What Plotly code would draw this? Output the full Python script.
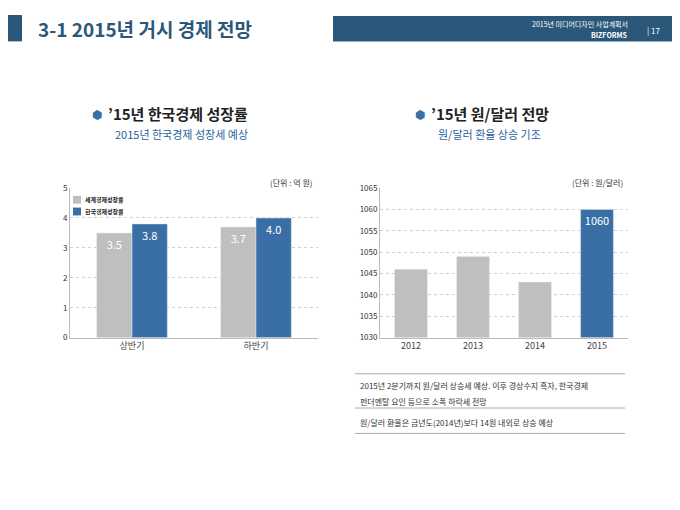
import plotly.graph_objects as go

periods = ["상반기", "하반기"]
world_growth = [3.5, 3.7]
korea_growth = [3.8, 4.0]
series_names = ["세계경제성장률", "한국경제성장률"]
years = ["2012", "2013", "2014", "2015"]
exchange = [1046, 1049, 1043, 1060]
ex_labels = ["", "", "", "1060"]

NAVY = "#2b587a"
GREY = "#bfbfbf"
BLUE = "#3a6fa5"
F = "Noto Sans CJK KR"
W, H, OFF = 664, 494, 8

def px(x):
    return (x - OFF) / W

def py(y):
    return 1 - (y - OFF) / H

fig = go.Figure()
fig.add_bar(x=periods, y=world_growth, name=series_names[0], marker_color=GREY,
            text=[f"{v:.1f}" for v in world_growth], textposition="inside",
            insidetextanchor="end", textfont=dict(color="white", size=11, family=F),
            xaxis="x", yaxis="y")
fig.add_bar(x=periods, y=korea_growth, name=series_names[1], marker_color=BLUE,
            text=[f"{v:.1f}" for v in korea_growth], textposition="inside",
            insidetextanchor="end", textfont=dict(color="white", size=11, family=F),
            xaxis="x", yaxis="y")
fig.add_bar(x=years, y=[e - 1030 for e in exchange], base=1030, showlegend=False,
            marker_color=[GREY, GREY, GREY, BLUE], text=ex_labels, textposition="inside",
            insidetextanchor="end", textfont=dict(color="white", size=11, family=F),
            xaxis="x2", yaxis="y2", width=0.53)

ax = dict(showline=True, linecolor="#bbbbbb", ticks="", tickfont=dict(size=9, family=F, color="#444"))
ay = dict(showgrid=True, gridcolor="#d0d0d0", griddash="dot", zeroline=False, showline=True,
          linecolor="#bbbbbb", tickfont=dict(size=8, family=F, color="#333"))
fig.update_layout(
    width=W, height=H, margin=dict(l=0, r=0, t=0, b=0),
    paper_bgcolor="white", plot_bgcolor="white", barmode="group", bargap=0.43, bargroupgap=0,
    font=dict(family=F), showlegend=False,
    xaxis=dict(domain=[px(70), px(318)], anchor="y", **ax),
    yaxis=dict(domain=[py(339), py(186)], range=[0, 5], dtick=1, anchor="x", **ay),
    xaxis2=dict(domain=[px(380), px(628)], anchor="y2", **ax),
    yaxis2=dict(domain=[py(339), py(186)], range=[1030, 1065], dtick=5, anchor="x2", **ay),
)

shapes = [
    dict(type="rect", xref="paper", yref="paper", x0=px(0), x1=px(22), y0=py(36), y1=py(9),
         fillcolor=NAVY, line_width=0),
    dict(type="rect", xref="paper", yref="paper", x0=px(333), x1=1, y0=py(36), y1=py(10),
         fillcolor=NAVY, line_width=0),
]
for i, c in enumerate([GREY, BLUE]):
    y0 = 194 + 12 * i
    shapes.append(dict(type="rect", xref="paper", yref="paper", x0=px(73), x1=px(81),
                       y0=py(y0 + 8), y1=py(y0), fillcolor=c, line_width=0))
for yy in [376, 411, 437]:
    shapes.append(dict(type="line", xref="paper", yref="paper", x0=px(355), x1=px(625),
                       y0=py(yy), y1=py(yy), line=dict(color="#aaaaaa", width=1)))
fig.update_layout(shapes=shapes)

def txt(x, y, s, size, color="#333", bold=False, anchor="left"):
    fig.add_annotation(xref="paper", yref="paper", x=px(x), y=py(y), text=f"<b>{s}</b>" if bold else s,
                       showarrow=False, xanchor=anchor, yanchor="middle",
                       font=dict(size=size, color=color, family=F))

for i, n in enumerate(series_names):
    txt(83, 198 + 12 * i, n, 6, "#222", True)

txt(36, 23, "3-1 2015년 거시 경제 전망", 19, NAVY, True)
txt(630, 18, "2015년 미디어디자인 사업계획서", 7, "white", anchor="right")
txt(630, 29, "<b>BIZFORMS</b>", 7, "white", anchor="right")
txt(662, 25, "| 17", 8, "white", anchor="right")
txt(104, 110, "⬢", 12, "#3a6fa5", anchor="right")
txt(106, 110, "’15년 한국경제 성장률", 15, "#222", True)
txt(113, 131, "2015년 한국경제 성장세 예상", 11, "#2b5fa0")
txt(427, 110, "⬢", 12, "#3a6fa5", anchor="right")
txt(429, 110, "’15년 원/달러 전망", 15, "#222", True)
txt(436, 131, "원/달러 환율 상승 기조", 11, "#2b5fa0")
txt(314, 180, "(단위 : 억 원)", 8, "#333", anchor="right")
txt(625, 180, "(단위 : 원/달러)", 8, "#333", anchor="right")
txt(358, 388, "2015년 2분기까지 원/달러 상승세 예상. 이후 경상수지 흑자, 한국경제", 8, "#333")
txt(358, 404, "펀더멘탈 요인 등으로 소폭 하락세 전망", 8, "#333")
txt(358, 426, "원/달러 환율은 금년도(2014년)보다 14원 내외로 상승 예상", 8, "#333")

fig.write_html("out.html")
